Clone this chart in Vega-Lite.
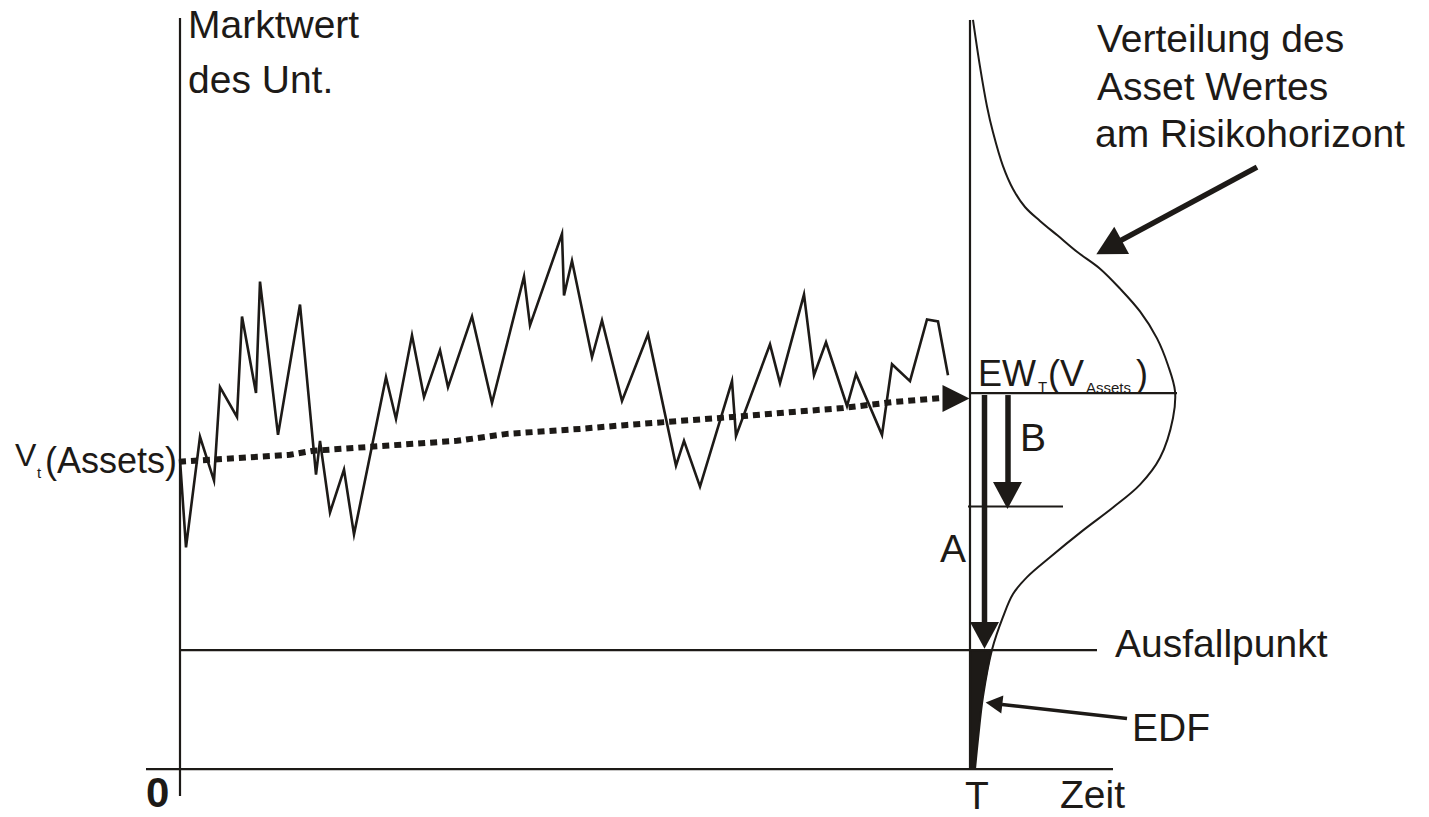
{
  "$schema": "https://vega.github.io/schema/vega-lite/v6.json",
  "width": 1429,
  "height": 817,
  "autosize": {"type": "fit", "contains": "padding"},
  "padding": 0,
  "background": "white",
  "config": {
    "view": {"stroke": null},
    "text": {"font": "Liberation Sans", "color": "#1d1a17"}
  },
  "datasets": {
    "walk": [
      {"x": 0, "y": 31.1}, {"x": 0.6, "y": 22.3}, {"x": 2.0, "y": 33.4}, {"x": 3.4, "y": 29.0},
      {"x": 4.0, "y": 38.4}, {"x": 5.7, "y": 35.4}, {"x": 6.2, "y": 45.5}, {"x": 7.6, "y": 37.8},
      {"x": 8.0, "y": 49.0}, {"x": 9.8, "y": 33.6}, {"x": 12.0, "y": 46.7}, {"x": 13.6, "y": 29.6},
      {"x": 14.0, "y": 33.0}, {"x": 15.0, "y": 25.8}, {"x": 16.4, "y": 30.1}, {"x": 17.4, "y": 23.6},
      {"x": 20.6, "y": 39.4}, {"x": 21.6, "y": 35.2}, {"x": 23.2, "y": 43.6}, {"x": 24.4, "y": 37.4},
      {"x": 26.0, "y": 42.1}, {"x": 26.8, "y": 38.4}, {"x": 29.2, "y": 45.5}, {"x": 31.2, "y": 36.8},
      {"x": 34.4, "y": 49.5}, {"x": 35.0, "y": 44.6}, {"x": 38.2, "y": 53.8}, {"x": 38.4, "y": 47.6},
      {"x": 39.2, "y": 51.1}, {"x": 41.2, "y": 41.4}, {"x": 42.2, "y": 45.1}, {"x": 44.2, "y": 37.0},
      {"x": 46.8, "y": 43.7}, {"x": 49.6, "y": 30.5}, {"x": 50.4, "y": 33.0}, {"x": 52.0, "y": 28.4},
      {"x": 55.2, "y": 39.0}, {"x": 55.6, "y": 33.5}, {"x": 59.0, "y": 42.7}, {"x": 60.0, "y": 38.8},
      {"x": 62.4, "y": 47.7}, {"x": 63.4, "y": 39.6}, {"x": 64.6, "y": 42.9}, {"x": 66.7, "y": 36.5},
      {"x": 67.6, "y": 39.7}, {"x": 70.2, "y": 33.6}, {"x": 71.2, "y": 40.7}, {"x": 73.0, "y": 39.0},
      {"x": 74.7, "y": 45.2}, {"x": 75.8, "y": 45.0}, {"x": 76.8, "y": 39.6}
    ],
    "trend": [
      {"x": -0.1, "y": 30.9}, {"x": 11.0, "y": 31.6}, {"x": 13.3, "y": 32.0}, {"x": 23.3, "y": 32.7},
      {"x": 27.7, "y": 33.0}, {"x": 32.7, "y": 33.7}, {"x": 40.0, "y": 34.2}, {"x": 44.7, "y": 34.6},
      {"x": 54.0, "y": 35.3}, {"x": 61.3, "y": 35.9}, {"x": 66.3, "y": 36.3}, {"x": 71.3, "y": 36.9},
      {"x": 76.2, "y": 37.3}
    ],
    "density": [
      {"k": 1, "x": 79.3, "y": 75.3}, {"k": 2, "x": 80.0, "y": 70.6}, {"k": 3, "x": 80.7, "y": 66.6},
      {"k": 4, "x": 81.3, "y": 64.0}, {"k": 5, "x": 82.3, "y": 60.6}, {"k": 6, "x": 83.3, "y": 58.3},
      {"k": 7, "x": 84.5, "y": 56.5}, {"k": 8, "x": 86.0, "y": 55.1}, {"k": 9, "x": 87.8, "y": 53.6},
      {"k": 10, "x": 89.7, "y": 52.0}, {"k": 11, "x": 92.0, "y": 50.3}, {"k": 12, "x": 94.0, "y": 48.3},
      {"k": 13, "x": 96.0, "y": 46.0}, {"k": 14, "x": 97.7, "y": 43.3}, {"k": 15, "x": 98.8, "y": 40.6},
      {"k": 16, "x": 99.5, "y": 38.0}, {"k": 17, "x": 99.3, "y": 35.3}, {"k": 18, "x": 98.0, "y": 31.3},
      {"k": 19, "x": 96.0, "y": 28.6}, {"k": 20, "x": 93.3, "y": 26.3}, {"k": 21, "x": 90.3, "y": 24.0},
      {"k": 22, "x": 87.0, "y": 21.3}, {"k": 23, "x": 84.7, "y": 19.3}, {"k": 24, "x": 83.3, "y": 17.6},
      {"k": 25, "x": 82.3, "y": 15.3}, {"k": 26, "x": 81.2, "y": 12.0}, {"k": 27, "x": 80.3, "y": 7.3},
      {"k": 28, "x": 79.8, "y": 3.0}, {"k": 29, "x": 79.5, "y": 0}
    ],
    "edf": [
      {"x": 81.2, "y": 12.0}, {"x": 80.3, "y": 7.3}, {"x": 79.8, "y": 3.0}, {"x": 79.5, "y": 0}
    ],
    "thinLines": [
      {"x": 0, "y": 75.5, "x2": 0, "y2": -2.7},
      {"x": -3.4, "y": 0, "x2": 93.3, "y2": 0},
      {"x": 79, "y": 75.3, "x2": 79, "y2": 0},
      {"x": 0, "y": 11.97, "x2": 91.7, "y2": 11.97},
      {"x": 79, "y": 37.8, "x2": 99.7, "y2": 37.8},
      {"x": 78.8, "y": 26.4, "x2": 88.3, "y2": 26.4}
    ],
    "shafts": [
      {"x": 80.45, "y": 37.6, "x2": 80.45, "y2": 14.6},
      {"x": 82.8, "y": 37.6, "x2": 82.8, "y2": 28.5},
      {"x": 107.7, "y": 60.5, "x2": 94.0, "y2": 53.1}
    ],
    "edfPointer": [
      {"x": 94.7, "y": 5.1, "x2": 82.2, "y2": 6.5}
    ],
    "headsDown": [
      {"x": 80.45, "y": 13.45},
      {"x": 82.75, "y": 27.5}
    ],
    "headRight": [{"x": 77.6, "y": 37.25}],
    "headBig": [{"x": 92.9, "y": 52.45}],
    "headEdf": [{"x": 81.4, "y": 6.6}],
    "labels": [
      {"label": "Marktwert", "x": 0.8, "y": 73.5},
      {"label": "des Unt.", "x": 0.8, "y": 68.0},
      {"label": "B", "x": 84.0, "y": 32.0},
      {"label": "A", "x": 76.0, "y": 20.8},
      {"label": "Verteilung des", "x": 91.7, "y": 72.1},
      {"label": "Asset Wertes", "x": 91.7, "y": 67.3},
      {"label": "am Risikohorizont", "x": 91.5, "y": 62.5},
      {"label": "Ausfallpunkt", "x": 93.5, "y": 11.3},
      {"label": "EDF", "x": 95.2, "y": 2.8},
      {"label": "T", "x": 78.5, "y": -4.0},
      {"label": "Zeit", "x": 88.0, "y": -3.9}
    ],
    "formula": [
      {"label": "(Assets)", "x": -13.5, "y": 29.8},
      {"label": "EW", "x": 79.8, "y": 38.5},
      {"label": "(V", "x": 86.8, "y": 38.5},
      {"label": ")", "x": 95.6, "y": 38.5}
    ],
    "vee": [{"label": "V", "x": -16.5, "y": 30.5}],
    "subs": [
      {"label": "t", "x": -14.3, "y": 29.3},
      {"label": "T", "x": 85.8, "y": 37.9},
      {"label": "Assets", "x": 90.6, "y": 37.8}
    ],
    "origin": [{"label": "0", "x": -3.4, "y": -3.8}]
  },
  "encoding": {
    "x": {"field": "x", "type": "quantitative", "scale": {"domain": [-18, 124.9], "nice": false, "zero": false}, "axis": null},
    "y": {"field": "y", "type": "quantitative", "scale": {"domain": [-4.4, 77.3], "nice": false, "zero": false}, "axis": null}
  },
  "layer": [
    {
      "data": {"name": "edf"},
      "mark": {"type": "area", "orient": "horizontal", "color": "#1d1a17", "opacity": 1},
      "encoding": {"x2": {"datum": 79}}
    },
    {
      "data": {"name": "thinLines"},
      "mark": {"type": "rule", "color": "#1d1a17", "strokeWidth": 2.2},
      "encoding": {"x2": {"field": "x2"}, "y2": {"field": "y2"}}
    },
    {
      "data": {"name": "walk"},
      "mark": {"type": "line", "color": "#1d1a17", "strokeWidth": 2.6, "strokeJoin": "miter", "strokeMiterLimit": 6}
    },
    {
      "data": {"name": "trend"},
      "mark": {"type": "line", "color": "#1d1a17", "strokeWidth": 6, "strokeDash": [7, 5], "strokeCap": "butt"}
    },
    {
      "data": {"name": "density"},
      "mark": {"type": "line", "color": "#1d1a17", "strokeWidth": 2, "interpolate": "catmull-rom"},
      "encoding": {"order": {"field": "k", "type": "quantitative"}}
    },
    {
      "data": {"name": "shafts"},
      "mark": {"type": "rule", "color": "#1d1a17", "strokeWidth": 5.5},
      "encoding": {"x2": {"field": "x2"}, "y2": {"field": "y2"}}
    },
    {
      "data": {"name": "edfPointer"},
      "mark": {"type": "rule", "color": "#1d1a17", "strokeWidth": 3.5},
      "encoding": {"x2": {"field": "x2"}, "y2": {"field": "y2"}}
    },
    {
      "data": {"name": "headsDown"},
      "mark": {"type": "point", "filled": true, "opacity": 1, "color": "#1d1a17", "strokeWidth": 0, "shape": "M-1,-0.93L1,-0.93L0,0.93Z", "size": 841}
    },
    {
      "data": {"name": "headRight"},
      "mark": {"type": "point", "filled": true, "opacity": 1, "color": "#1d1a17", "strokeWidth": 0, "shape": "M-1,-1L1,0L-1,1Z", "size": 729}
    },
    {
      "data": {"name": "headBig"},
      "mark": {"type": "point", "filled": true, "opacity": 1, "color": "#1d1a17", "strokeWidth": 0, "shape": "M-0.93,-1L0.93,0L-0.93,1Z", "size": 961, "angle": 151.5}
    },
    {
      "data": {"name": "headEdf"},
      "mark": {"type": "point", "filled": true, "opacity": 1, "color": "#1d1a17", "strokeWidth": 0, "shape": "M-0.93,-1L0.93,0L-0.93,1Z", "size": 324, "angle": 186.5}
    },
    {
      "data": {"name": "labels"},
      "mark": {"type": "text", "align": "left", "baseline": "alphabetic", "fontSize": 39},
      "encoding": {"text": {"field": "label"}}
    },
    {
      "data": {"name": "formula"},
      "mark": {"type": "text", "align": "left", "baseline": "alphabetic", "fontSize": 36},
      "encoding": {"text": {"field": "label"}}
    },
    {
      "data": {"name": "vee"},
      "mark": {"type": "text", "align": "left", "baseline": "alphabetic", "fontSize": 32},
      "encoding": {"text": {"field": "label"}}
    },
    {
      "data": {"name": "subs"},
      "mark": {"type": "text", "align": "left", "baseline": "alphabetic", "fontSize": 15},
      "encoding": {"text": {"field": "label"}}
    },
    {
      "data": {"name": "origin"},
      "mark": {"type": "text", "align": "left", "baseline": "alphabetic", "fontSize": 42, "fontWeight": "bold"},
      "encoding": {"text": {"field": "label"}}
    }
  ]
}
